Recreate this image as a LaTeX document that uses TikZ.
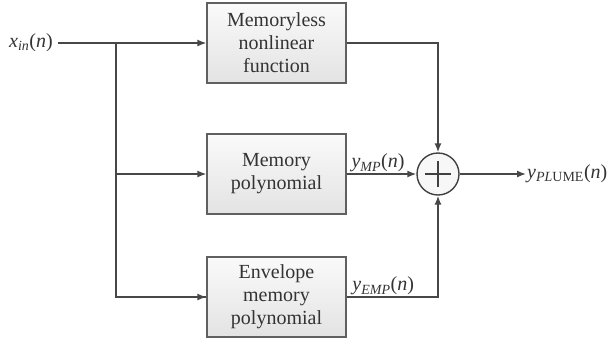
\documentclass[tikz,border=0pt]{standalone}
\usepackage{fontspec}
\setmainfont{Liberation Serif}
\usetikzlibrary{arrows.meta,positioning,calc}

\begin{document}
\begin{tikzpicture}[x=1pt, y=-1pt,
  node distance = 50pt and 20pt,
  block/.style = {rectangle, draw=gray!75!black, line width=1.3pt,
                  top color=gray!4, bottom color=gray!22,
                  minimum width=139pt, minimum height=80pt,
                  align=center, font=\fontsize{20}{23}\selectfont,
                  text=black!80},
  sumnode/.style = {circle, draw=black!75, line width=1.4pt,
                    fill=gray!6, minimum size=42pt, inner sep=0pt,
                    path picture={
                      \draw[black!75, line width=1.4pt]
                        ($(path picture bounding box.center)+(-13pt,0)$) --
                        ($(path picture bounding box.center)+(13pt,0)$)
                        ($(path picture bounding box.center)+(0,-13pt)$) --
                        ($(path picture bounding box.center)+(0,13pt)$);}},
  sig/.style   = {font=\fontsize{20}{22}\selectfont, text=black!80, inner sep=1pt},
  line/.style  = {draw=black!72, line width=1.4pt},
  arr/.style   = {line, -{Latex[length=9pt, width=7pt]}}
]
\useasboundingbox (0,0) rectangle (608,341);

% -- Input --
\node[sig] (xin) at (31,43) {\textit{x}\textsubscript{\textit{in}}(\textit{n})};
\coordinate (split) at (116,43);

% -- Branches --
\node[block] (nl)  at (276.5,43) {Memoryless\\nonlinear\\function};
\node[block] (mp)  at (276.5,174) {Memory\\polynomial};
\node[block] (emp) at (276.5,297) {Envelope\\memory\\polynomial};

% -- Summation and output --
\node[sumnode] (sum) at (438,174) {};
\coordinate (out) at (526,174);
\node[sig, anchor=west] (yout) at (out) {\textit{y}\textsubscript{\textit{PL}UME}(\textit{n})};

% -- Arrows --
\draw[line] (xin.east) ++(4pt,0) -- (split);
\draw[arr] (split) -- (nl.west);
\draw[line] (split) |- (emp.west);
\draw[arr] (split |- mp.west) -- (mp.west);
\draw[arr] (split |- emp.west) -- (emp.west);
\draw[arr] (nl.east) -| (sum.north);
\draw[arr] (mp.east) -- node[sig, above, pos=0.45] (ymp)
     {\textit{y}\textsubscript{\textit{MP}}(\textit{n})} (sum.west);
\draw[arr] (emp.east) -| node[sig, above, pos=0.2] (yemp)
     {\textit{y}\textsubscript{\textit{EMP}}(\textit{n})} (sum.south);
\draw[arr] (sum.east) -- (out);

\end{tikzpicture}
\end{document}
